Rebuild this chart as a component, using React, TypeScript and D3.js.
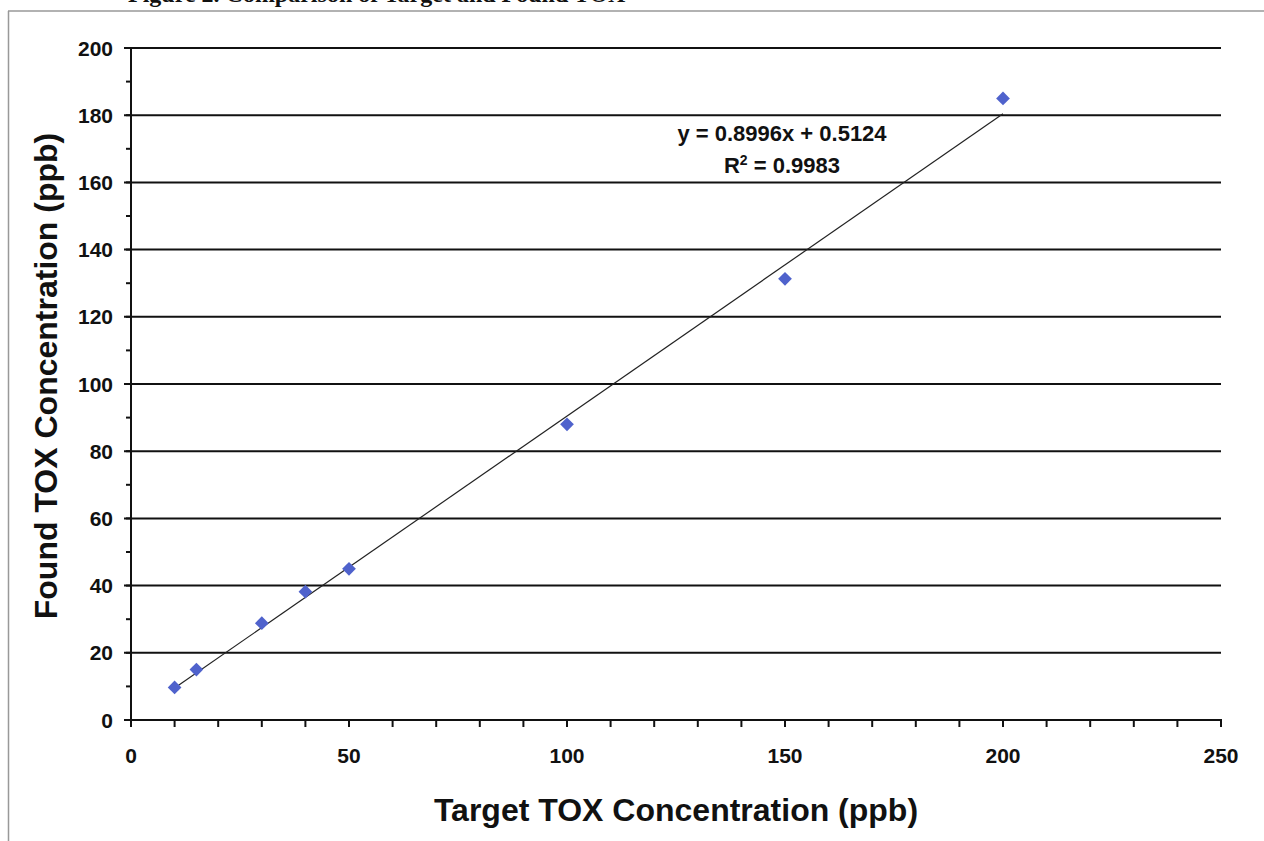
import React from "react";
import * as d3 from "d3";

const targetValues = [10, 15, 30, 40, 50, 100, 150, 200];
const foundValues = [9.7, 15, 28.8, 38.2, 45, 88, 131.3, 185];
const slope = 0.8996;
const intercept = 0.5124;
const equationText = "y = 0.8996x + 0.5124";
const r2Value = "0.9983";
const xTicks = [0, 50, 100, 150, 200, 250];
const yTicks = [0, 20, 40, 60, 80, 100, 120, 140, 160, 180, 200];
const xTitle = "Target TOX Concentration (ppb)";
const yTitle = "Found TOX Concentration (ppb)";
const figTitle = "Figure 2.  Comparison of Target and Found TOX";

const W = 1264;
const H = 841;
const FONT = "'Liberation Sans', Arial, sans-serif";

export default function App() {
  const x = d3.scaleLinear().domain([0, 250]).range([131, 1221]);
  const y = d3.scaleLinear().domain([0, 200]).range([720, 48]);
  const xMinor = d3.range(0, 251, 10);
  const yMinor = d3.range(0, 201, 10);
  const fitX = [d3.min(targetValues)!, d3.max(targetValues)!];
  const line = d3
    .line<number>()
    .x((d) => x(d))
    .y((d) => y(slope * d + intercept));
  const diamond = d3.symbol().type(d3.symbolDiamond2).size(120)()!;

  return (
    <svg
      width={W}
      height={H}
      viewBox={`0 0 ${W} ${H}`}
      style={{ position: "absolute", left: 0, top: 0, background: "#fff" }}
    >
      <rect x={0} y={0} width={W} height={H} fill="#fff" />
      {/* clipped figure title */}
      <text
        x={128}
        y={2}
        fontFamily="'Liberation Serif', 'Times New Roman', serif"
        fontWeight="bold"
        fontSize={24}
        fill="#111"
      >
        {figTitle}
      </text>
      {/* frame */}
      <line x1={8.5} y1={11} x2={8.5} y2={H} stroke="#999" strokeWidth={1.5} />
      <line x1={8} y1={11} x2={W} y2={11} stroke="#999" strokeWidth={1.5} />

      {/* gridlines */}
      {yTicks
        .filter((t) => t > 0)
        .map((t) => (
          <line key={"g" + t} x1={124} x2={1221} y1={y(t)} y2={y(t)} stroke="#111" strokeWidth={2} />
        ))}
      {/* y minor ticks */}
      {yMinor.map((t) => (
        <line key={"ym" + t} x1={126} x2={131} y1={y(t)} y2={y(t)} stroke="#111" strokeWidth={2} />
      ))}
      {/* x minor ticks */}
      {xMinor.map((t) => (
        <line key={"xm" + t} x1={x(t)} x2={x(t)} y1={720} y2={727} stroke="#111" strokeWidth={2} />
      ))}
      {/* axes */}
      <line x1={131} x2={131} y1={48} y2={727} stroke="#111" strokeWidth={2} />
      <line x1={124} x2={1222} y1={720} y2={720} stroke="#111" strokeWidth={2} />

      {/* y tick labels */}
      {yTicks.map((t) => (
        <text
          key={"yl" + t}
          x={113}
          y={y(t)}
          dy="0.36em"
          textAnchor="end"
          fontFamily={FONT}
          fontWeight="bold"
          fontSize={21}
          fill="#111"
        >
          {t}
        </text>
      ))}
      {/* x tick labels */}
      {xTicks.map((t) => (
        <text
          key={"xl" + t}
          x={x(t)}
          y={763}
          textAnchor="middle"
          fontFamily={FONT}
          fontWeight="bold"
          fontSize={21}
          fill="#111"
        >
          {t}
        </text>
      ))}

      {/* trendline */}
      <path d={line(fitX) || ""} fill="none" stroke="#222" strokeWidth={1.2} />

      {/* points */}
      {targetValues.map((t, i) => (
        <path
          key={"p" + i}
          d={diamond}
          transform={`translate(${x(t)},${y(foundValues[i])})`}
          fill="#4f62cc"
        />
      ))}

      {/* equation */}
      <text x={782} y={141} textAnchor="middle" fontFamily={FONT} fontWeight="bold" fontSize={22} fill="#111">
        {equationText}
      </text>
      <text x={782} y={173} textAnchor="middle" fontFamily={FONT} fontWeight="bold" fontSize={22} fill="#111">
        R<tspan dy={-8} fontSize={14}>2</tspan>
        <tspan dy={8}>{" = " + r2Value}</tspan>
      </text>

      {/* axis titles */}
      <text
        x={676}
        y={821}
        textAnchor="middle"
        fontFamily={FONT}
        fontWeight="bold"
        fontSize={32}
        fill="#111"
      >
        {xTitle}
      </text>
      <text
        transform={`translate(57,376) rotate(-90)`}
        textAnchor="middle"
        fontFamily={FONT}
        fontWeight="bold"
        fontSize={32}
        fill="#111"
      >
        {yTitle}
      </text>
    </svg>
  );
}
